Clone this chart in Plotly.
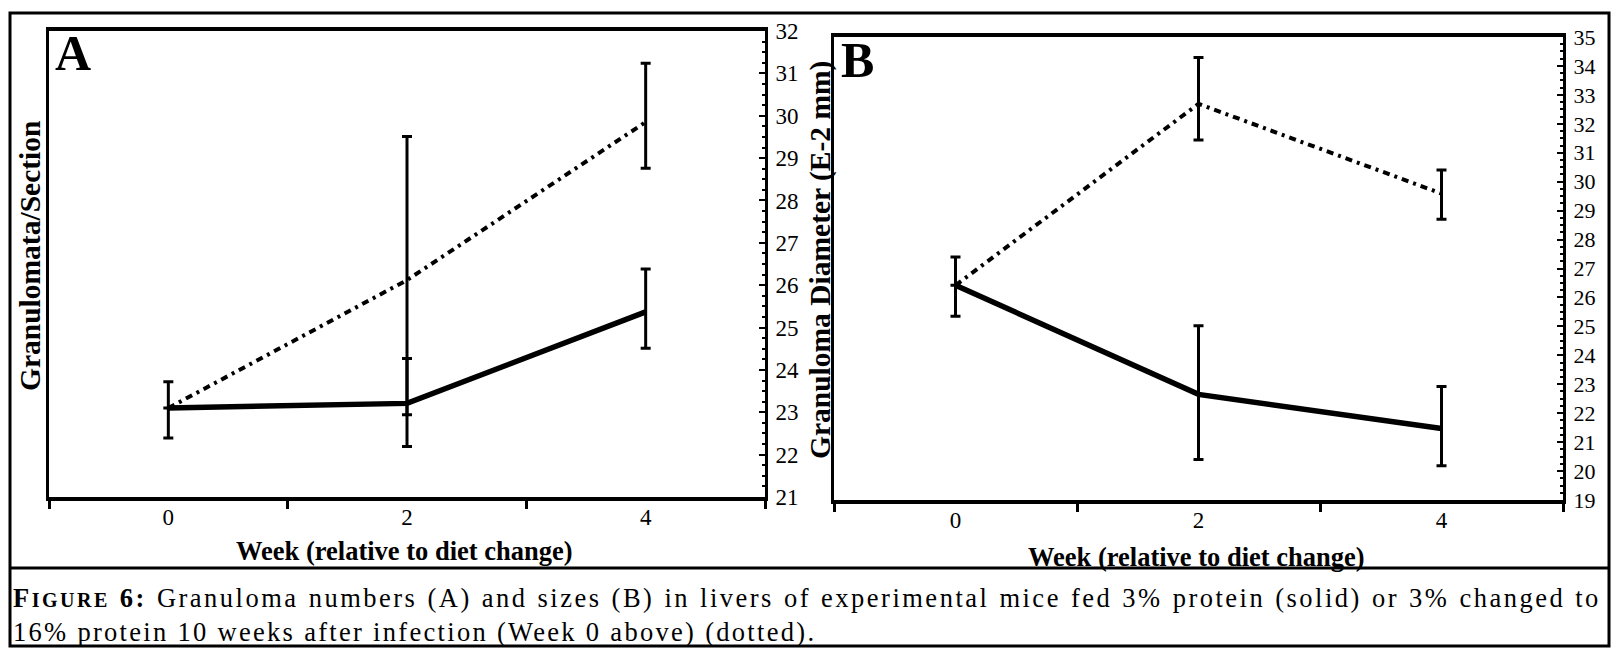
import plotly.graph_objects as go

W, H = 1616, 651

# Weeks relative to the diet change
weeks = [0, 2, 4]

# Panel A: granulomata per section
a_solid = [23.10, 23.21, 25.37]
a_solid_up = [0.62, 1.06, 1.01]
a_solid_dn = [0.71, 1.02, 0.86]
a_dotted = [23.10, 26.12, 29.85]
a_dotted_up = [None, 3.39, 1.39]
a_dotted_dn = [None, 3.18, 1.09]

# Panel B: granuloma diameter (E-2 mm)
b_solid = [26.42, 22.65, 21.47]
b_solid_up = [0.98, 2.37, 1.45]
b_solid_dn = [1.07, 2.25, 1.29]
b_dotted = [26.42, 32.69, 29.59]
b_dotted_up = [None, 1.60, 0.81]
b_dotted_dn = [None, 1.25, 0.89]

a_yticks = list(range(21, 33))
b_yticks = list(range(19, 36))
x_labels = ["0", "2", "4"]
x_label_vals = [0, 2, 4]
x_tick_marks = [-1, 1, 3, 5]

SERIF = "Liberation Serif"
DOT = "7px,5px,3px,5px"


def px_x(v):
    return v / W


def px_y(v):
    return 1 - v / H


def err(up, dn):
    return dict(type="data", symmetric=False, array=up, arrayminus=dn,
                thickness=3, width=5, color="black")


fig = go.Figure()

fig.add_trace(go.Scatter(x=weeks, y=a_dotted, mode="lines",
                         line=dict(color="black", width=4, dash=DOT),
                         error_y=err(a_dotted_up, a_dotted_dn),
                         xaxis="x", yaxis="y", showlegend=False))
fig.add_trace(go.Scatter(x=weeks, y=a_solid, mode="lines",
                         line=dict(color="black", width=5.5),
                         error_y=err(a_solid_up, a_solid_dn),
                         xaxis="x", yaxis="y", showlegend=False))
fig.add_trace(go.Scatter(x=weeks, y=b_dotted, mode="lines",
                         line=dict(color="black", width=4, dash=DOT),
                         error_y=err(b_dotted_up, b_dotted_dn),
                         xaxis="x2", yaxis="y2", showlegend=False))
fig.add_trace(go.Scatter(x=weeks, y=b_solid, mode="lines",
                         line=dict(color="black", width=5.5),
                         error_y=err(b_solid_up, b_solid_dn),
                         xaxis="x2", yaxis="y2", showlegend=False))


def xaxis_cfg(domain, anchor):
    return dict(domain=domain, anchor=anchor, range=[-1, 5], automargin=False,
                showline=True, linecolor="black", linewidth=4, mirror=True,
                showgrid=False, zeroline=False,
                tickmode="array", tickvals=x_label_vals, ticktext=x_labels,
                ticks="outside", ticklen=0, tickcolor="rgba(0,0,0,0)",
                ticklabelstandoff=-4,
                tickfont=dict(family=SERIF, size=23, color="black"),
                minor=dict(tickmode="array", tickvals=x_tick_marks,
                           ticks="outside", ticklen=8, tickwidth=3,
                           tickcolor="black", showgrid=False))


def yaxis_cfg(domain, anchor, rng, ticks, size):
    return dict(domain=domain, anchor=anchor, range=rng, side="right",
                automargin=False,
                showline=True, linecolor="black", linewidth=3, mirror=True,
                showgrid=False, zeroline=False,
                tickmode="array", tickvals=ticks,
                ticks="inside", ticklen=6, tickwidth=2, tickcolor="black",
                ticklabelstandoff=3,
                tickfont=dict(family=SERIF, size=size, color="black"),
                minor=dict(dtick=0.25, ticks="inside", ticklen=3, tickwidth=2,
                           tickcolor="black", showgrid=False))


fig.update_layout(
    width=W, height=H,
    margin=dict(l=0, r=0, t=0, b=0, pad=0, autoexpand=False),
    paper_bgcolor="white", plot_bgcolor="white",
    xaxis=xaxis_cfg([px_x(49), px_x(765)], "y"),
    yaxis=yaxis_cfg([px_y(497), px_y(31)], "x", [21, 32], a_yticks, 23),
    xaxis2=xaxis_cfg([px_x(834), px_x(1563)], "y2"),
    yaxis2=yaxis_cfg([px_y(500), px_y(37)], "x2", [19, 35], b_yticks, 22),
)

# Caption: small-caps "FIGURE", first line justified to the full width
SP1 = "letter-spacing:2.5px;word-spacing:0.9px"
SP2 = "letter-spacing:2.3px"
caption = (
    f"<b><span style='{SP1}'>F</span>"
    f"<span style='font-size:20px;{SP1}'>IGURE</span>"
    f"<span style='{SP1}'> 6:</span></b>"
    f"<span style='{SP1}'> Granuloma numbers (A) and sizes (B) in livers of "
    "experimental mice fed 3% protein (solid) or 3% changed to</span><br>"
    f"<span style='{SP2}'>16% protein 10 weeks after infection (Week 0 above) "
    "(dotted).</span>"
)

annotations = [
    dict(text="<b>A</b>", x=px_x(53), y=px_y(23), xanchor="left", yanchor="top",
         font=dict(family=SERIF, size=50)),
    dict(text="<b>B</b>", x=px_x(839), y=px_y(30), xanchor="left", yanchor="top",
         font=dict(family=SERIF, size=50)),
    dict(text="<b>Granulomata/Section</b>", x=px_x(30), y=px_y(256),
         textangle=-90, font=dict(family=SERIF, size=29.5)),
    dict(text="<b>Granuloma Diameter (E-2 mm)</b>", x=px_x(820), y=px_y(260),
         textangle=-90, font=dict(family=SERIF, size=29.5)),
    dict(text="<b>Week (relative to diet change)</b>", x=px_x(404), y=px_y(551),
         font=dict(family=SERIF, size=26.5)),
    dict(text="<b>Week (relative to diet change)</b>", x=px_x(1196), y=px_y(557),
         font=dict(family=SERIF, size=26.5)),
    dict(text=caption, x=px_x(11), y=px_y(615), xanchor="left", align="left",
         font=dict(family=SERIF, size=26.5)),
]
for a in annotations:
    a.setdefault("xref", "paper")
    a.setdefault("yref", "paper")
    a.setdefault("xanchor", "center")
    a.setdefault("yanchor", "middle")
    a.setdefault("showarrow", False)
    a["font"].setdefault("color", "black")
fig.update_layout(annotations=annotations)

# Outer figure border and caption separator
fig.add_shape(type="rect", xref="paper", yref="paper",
              x0=px_x(10), x1=px_x(1609), y0=px_y(646), y1=px_y(13),
              line=dict(color="black", width=3))
fig.add_shape(type="line", xref="paper", yref="paper",
              x0=px_x(10), x1=px_x(1609), y0=px_y(568), y1=px_y(568),
              line=dict(color="black", width=3))

fig.write_html("out.html")
